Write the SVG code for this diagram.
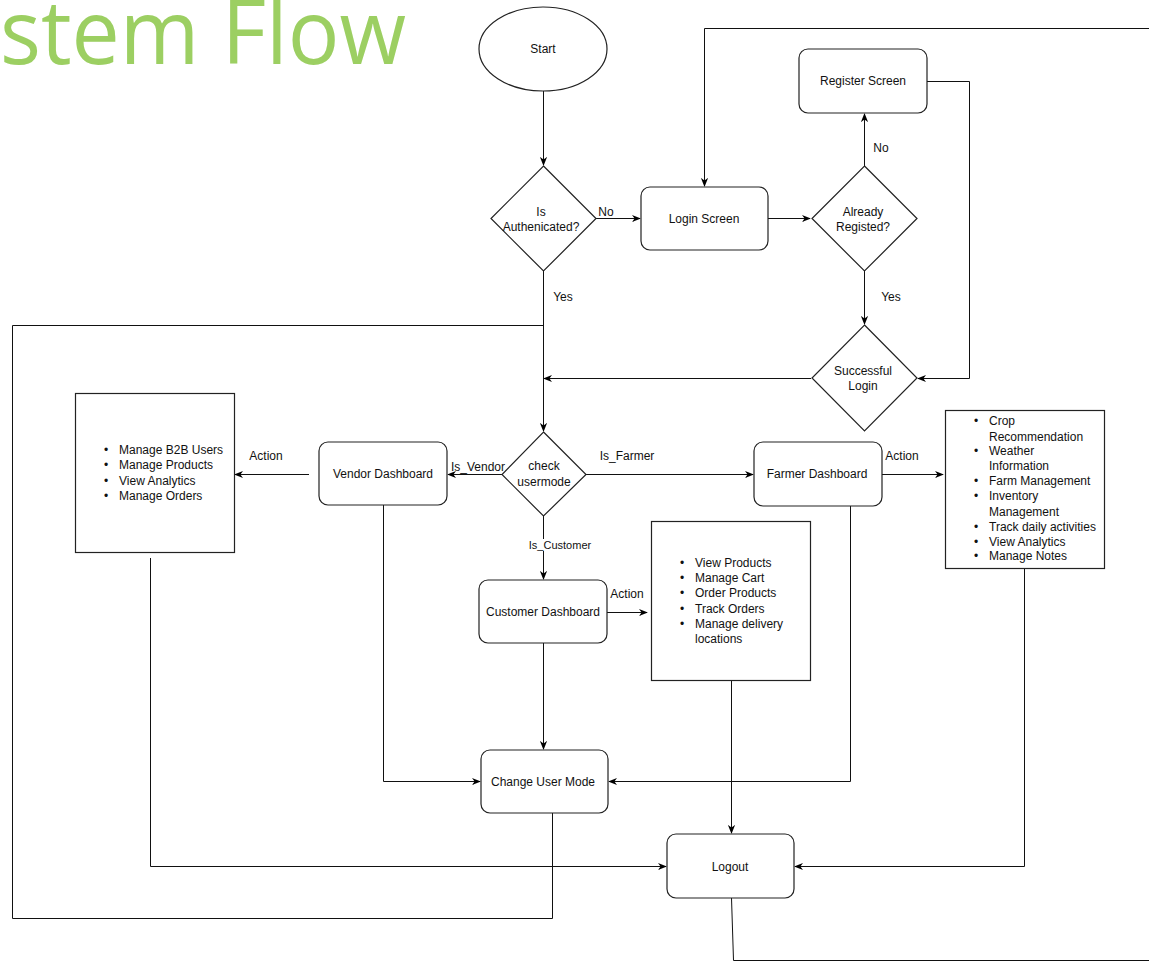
<svg xmlns="http://www.w3.org/2000/svg" width="1149" height="962" viewBox="0 0 1149 962">
<defs>
<marker id="arr" viewBox="0 0 10 10" refX="9" refY="5" markerWidth="9" markerHeight="9" markerUnits="userSpaceOnUse" orient="auto">
<path d="M0,1 L10,5 L0,9 L3,5 z" fill="#000"/>
</marker>
</defs>
<style>
.n{fill:#fff;stroke:#222;stroke-width:1.2}
.c{fill:none;stroke:#111;stroke-width:1}
.t{font-family:"Liberation Sans",Arial,sans-serif;font-size:12px;fill:#111;text-anchor:middle}
.l{font-family:"Liberation Sans",Arial,sans-serif;font-size:12px;fill:#111}
.s{font-size:11px}
</style>
<rect width="1149" height="962" fill="#fff"/>
<text x="0" y="64" font-family="'Open Sans',sans-serif" font-weight="400" font-size="89" fill="#9ccf62" textLength="406" lengthAdjust="spacingAndGlyphs">stem Flow</text>

<g id="connectors">
<path class="c" d="M543.5,91 V165" marker-end="url(#arr)"/>
<path class="c" d="M596,218.5 H640" marker-end="url(#arr)"/>
<path class="c" d="M768,218.5 H810" marker-end="url(#arr)"/>
<path class="c" d="M864.5,166 V114" marker-end="url(#arr)"/>
<path class="c" d="M927,81.5 H969.5 V378.5 H918" marker-end="url(#arr)"/>
<path class="c" d="M864.5,271 V324" marker-end="url(#arr)"/>
<path class="c" d="M811,378.5 H544" marker-end="url(#arr)"/>
<path class="c" d="M543.5,271 V431" marker-end="url(#arr)"/>
<path class="c" d="M552.5,813 V918.5 H12.5 V325.5 H543.5"/>
<path class="c" d="M1149,28.5 H704.5 V186" marker-end="url(#arr)"/>
<path class="c" d="M502,474.5 H448" marker-end="url(#arr)"/>
<path class="c" d="M309,474.5 H235" marker-end="url(#arr)"/>
<path class="c" d="M586,474.5 H753" marker-end="url(#arr)"/>
<path class="c" d="M882,474.5 H943" marker-end="url(#arr)"/>
<path class="c" d="M543.5,516 V579" marker-end="url(#arr)"/>
<path class="c" d="M607,612.5 H647" marker-end="url(#arr)"/>
<path class="c" d="M543.5,643 V749" marker-end="url(#arr)"/>
<path class="c" d="M383.5,505 V781.5 H480" marker-end="url(#arr)"/>
<path class="c" d="M850.5,505 V781.5 H609" marker-end="url(#arr)"/>
<path class="c" d="M731.5,681 V833" marker-end="url(#arr)"/>
<path class="c" d="M150.5,558 V866.5 H666" marker-end="url(#arr)"/>
<path class="c" d="M1024.5,569 V866.5 H795" marker-end="url(#arr)"/>
<path class="c" d="M731.5,898 L733.5,960.5 H1149"/>
<rect x="601" y="206" width="16" height="12" fill="#fff"/>
<text class="t" x="606" y="216">No</text>
<text class="t" x="563" y="301">Yes</text>
<text class="t" x="881" y="152">No</text>
<text class="t" x="891" y="301">Yes</text>
<text class="t" x="266" y="460">Action</text>
<text class="t" x="627" y="460">Is_Farmer</text>
<text class="t" x="902" y="460">Action</text>
<rect x="525" y="539" width="70" height="12" fill="#fff"/>
<text class="t s" x="560" y="549">Is_Customer</text>
<text class="t" x="627" y="598">Action</text>
</g>

<g id="start"><ellipse class="n" cx="543" cy="49" rx="64" ry="42"/><text class="t" x="543" y="53">Start</text></g>
<g id="is-auth"><path class="n" d="M543.5,166 L596,218.5 L543.5,271 L491,218.5 z"/><text class="t" x="541" y="216">Is</text><text class="t" x="541" y="231">Authenicated?</text></g>
<g id="login"><rect class="n" x="641" y="187" width="127" height="63" rx="9"/><text class="t" x="704" y="223">Login Screen</text></g>
<g id="already"><path class="n" d="M864.5,166 L917,218.5 L864.5,271 L812,218.5 z"/><text class="t" x="863" y="216">Already</text><text class="t" x="863" y="231">Registed?</text></g>
<g id="register"><rect class="n" x="799" y="49" width="128" height="64" rx="9"/><text class="t" x="863" y="85">Register Screen</text></g>
<g id="successful"><path class="n" d="M864.5,325 L917,378 L864.5,431 L812,378 z"/><text class="t" x="863" y="375">Successful</text><text class="t" x="863" y="390">Login</text></g>
<g id="check"><path class="n" d="M543.5,432 L586,474.5 L543.5,516 L502,474.5 z"/><text class="t" x="544" y="470">check</text><text class="t" x="544" y="486">usermode</text></g>
<g id="is-vendor-label"><text class="t" x="478" y="471">Is_Vendor</text></g>
<g id="vendor"><rect class="n" x="319" y="442" width="128" height="63" rx="9"/><text class="t" x="383" y="478">Vendor Dashboard</text></g>
<g id="vendor-actions"><rect class="n" x="75.5" y="393.5" width="159" height="159"/>
<text class="l" x="104" y="454">•</text><text class="l" x="119" y="454">Manage B2B Users</text>
<text class="l" x="104" y="469">•</text><text class="l" x="119" y="469">Manage Products</text>
<text class="l" x="104" y="485">•</text><text class="l" x="119" y="485">View Analytics</text>
<text class="l" x="104" y="500">•</text><text class="l" x="119" y="500">Manage Orders</text></g>
<g id="farmer"><rect class="n" x="754" y="442" width="128" height="64" rx="9"/><text class="t" x="817" y="478">Farmer Dashboard</text></g>
<g id="farmer-actions"><rect class="n" x="945.5" y="410.5" width="159" height="158"/>
<text class="l" x="974" y="425">•</text><text class="l" x="989" y="425">Crop</text>
<text class="l" x="989" y="441">Recommendation</text>
<text class="l" x="974" y="455">•</text><text class="l" x="989" y="455">Weather</text>
<text class="l" x="989" y="470">Information</text>
<text class="l" x="974" y="485">•</text><text class="l" x="989" y="485">Farm Management</text>
<text class="l" x="974" y="500">•</text><text class="l" x="989" y="500">Inventory</text>
<text class="l" x="989" y="516">Management</text>
<text class="l" x="974" y="531">•</text><text class="l" x="989" y="531">Track daily activities</text>
<text class="l" x="974" y="546">•</text><text class="l" x="989" y="546">View Analytics</text>
<text class="l" x="974" y="560">•</text><text class="l" x="989" y="560">Manage Notes</text></g>
<g id="customer"><rect class="n" x="479" y="580" width="128" height="63" rx="9"/><text class="t" x="543" y="616">Customer Dashboard</text></g>
<g id="customer-actions"><rect class="n" x="651.5" y="521.5" width="159" height="159"/>
<text class="l" x="680" y="567">•</text><text class="l" x="695" y="567">View Products</text>
<text class="l" x="680" y="582">•</text><text class="l" x="695" y="582">Manage Cart</text>
<text class="l" x="680" y="597">•</text><text class="l" x="695" y="597">Order Products</text>
<text class="l" x="680" y="613">•</text><text class="l" x="695" y="613">Track Orders</text>
<text class="l" x="680" y="628">•</text><text class="l" x="695" y="628">Manage delivery</text>
<text class="l" x="695" y="643">locations</text></g>
<g id="change-mode"><rect class="n" x="481" y="750" width="127" height="63" rx="9"/><text class="t" x="543" y="786">Change User Mode</text></g>
<g id="logout"><rect class="n" x="667" y="834" width="127" height="64" rx="9"/><text class="t" x="730" y="871">Logout</text></g>
</svg>
